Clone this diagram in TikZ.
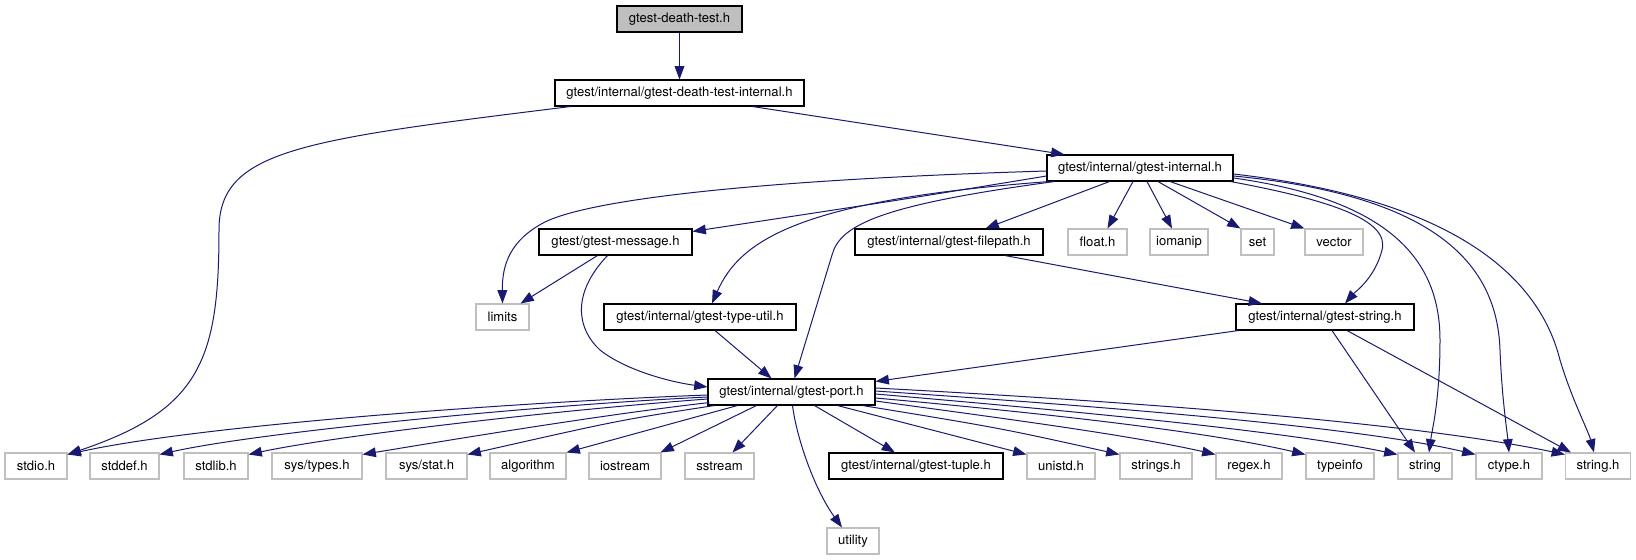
\documentclass[tikz,border=0pt]{standalone}
\usepackage{fontspec}
\setmainfont{TeX Gyre Heros}
\usetikzlibrary{arrows.meta,calc}
\definecolor{edgec}{HTML}{191970}
\definecolor{grayc}{HTML}{BFBFBF}
\definecolor{maingray}{HTML}{BFBFBF}
\begin{document}
\begin{tikzpicture}[x=0.75pt,y=-0.75pt,
  nb/.style={draw=black, line width=0.8pt, fill=white, minimum height=19.5pt,
    minimum width=#1*0.75pt, inner sep=0pt, font=\fontsize{9.8}{11}\selectfont},
  ng/.style={nb=#1, draw=grayc},
  edg/.style={draw=edgec, line width=0.75pt, -{Triangle[length=10pt,width=7.3pt]}}]
\useasboundingbox (0,0) rectangle (1636,560);
% nodes
\node[nb=125, fill=maingray] (dt) at (679.5,19) {gtest-death-test.h};
\node[nb=249] (dti) at (679.5,93) {gtest/internal/gtest-death-test-internal.h};
\node[nb=186] (gi) at (1140,168) {gtest/internal/gtest-internal.h};
\node[nb=153] (msg) at (615.5,242) {gtest/gtest-message.h};
\node[nb=188] (fp) at (949,242) {gtest/internal/gtest-filepath.h};
\node[ng=59] (float) at (1097.5,242) {float.h};
\node[ng=58] (ioman) at (1179,242) {iomanip};
\node[ng=33] (set) at (1257.5,242) {set};
\node[ng=58] (vector) at (1334,242) {vector};
\node[ng=53] (limits) at (502.5,317) {limits};
\node[nb=192] (tu) at (700,317) {gtest/internal/gtest-type-util.h};
\node[nb=178] (gs) at (1325,317) {gtest/internal/gtest-string.h};
\node[nb=167] (port) at (791.5,392) {gtest/internal/gtest-port.h};
\node[ng=62] (stdio) at (36,466) {stdio.h};
\node[ng=69] (stddef) at (124.5,466) {stddef.h};
\node[ng=64] (stdlib) at (216,466) {stdlib.h};
\node[ng=90] (systypes) at (317,466) {sys/types.h};
\node[ng=81] (sysstat) at (426.5,466) {sys/stat.h};
\node[ng=76] (algorithm) at (528,466) {algorithm};
\node[ng=72] (iostream) at (625,466) {iostream};
\node[ng=69] (sstream) at (719.5,466) {sstream};
\node[nb=174] (tuple) at (916,466) {gtest/internal/gtest-tuple.h};
\node[ng=68] (unistd) at (1061,466) {unistd.h};
\node[ng=72] (strings) at (1156,466) {strings.h};
\node[ng=66] (regex) at (1249,466) {regex.h};
\node[ng=68] (typeinfo) at (1340,466) {typeinfo};
\node[ng=54] (string) at (1425,466) {string};
\node[ng=66] (ctype) at (1509,466) {ctype.h};
\node[ng=65] (stringh) at (1598,466) {string.h};
\node[ng=52] (utility) at (853,541) {utility};
% edges from top
\draw[edg] (dt) -- (dti);
\draw[edg] ($(dti.south west)+(16,0)$) .. controls (300,140) and (219,150) .. (219,230)
  .. controls (219,360) and (200,410) .. ($(stdio.north east)+(0,2)$);
\draw[edg] ($(dti.south east)+(-52,0)$) -- ($(gi.north west)+(18,0)$);
% from gtest-internal
\draw[edg] ($(gi.west)+(0,3)$) .. controls (750,180) and (590,200) .. (545,222)
  .. controls (510,240) and (502,265) .. (limits.north);
\draw[edg] ($(gi.west)+(0,8)$) .. controls (900,200) .. ($(msg.north east)+(0,3)$);
\draw[edg] ($(gi.south west)+(3,0)$) .. controls (800,200) and (740,240) .. ($(tu.north)+(12,0)$);
\draw[edg] ($(gi.south west)+(8,0)$) .. controls (880,205) and (840,225) .. (832,255)
  -- ($(port.north)+(3,0)$);
\draw[edg] ($(gi.south west)+(63,0)$) -- ($(fp.north east)+(-58,0)$);
\draw[edg] ($(gi.south)+(-7,0)$) -- ($(float.north)+(10,0)$);
\draw[edg] ($(gi.south)+(7,0)$) -- ($(ioman.north)+(-7,0)$);
\draw[edg] ($(gi.south)+(18,0)$) -- (set.north west);
\draw[edg] ($(gi.south)+(30,0)$) -- (vector.north west);
\draw[edg] ($(gi.south east)+(-3,0)$) .. controls (1330,200) and (1390,220) .. (1382,250)
  .. controls (1375,278) and (1355,292) .. ($(gs.north)+(20,0)$);
\draw[edg] ($(gi.east)+(0,10)$) .. controls (1390,200) and (1440,260) .. (1440,340)
  .. controls (1440,400) and (1432,430) .. ($(string.north)+(4,0)$);
\draw[edg] ($(gi.east)+(0,8)$) .. controls (1430,195) and (1497,260) .. (1500,350)
  .. controls (1502,400) and (1507,430) .. (ctype.north);
\draw[edg] ($(gi.east)+(0,6)$) .. controls (1460,200) and (1540,280) .. (1560,360)
  .. controls (1572,400) and (1588,430) .. ($(stringh.north)+(-4,0)$);
% middle
\draw[edg] ($(msg.south)+(-18,0)$) -- ($(limits.north east)+(-9,0)$);
\draw[edg] ($(msg.south)+(-8,0)$) .. controls (570,295) and (578,330) .. (600,350)
  .. controls (625,370) and (670,382) .. ($(port.west)+(0,-5)$);
\draw[edg] ($(tu.south)+(15,0)$) -- ($(port.north)+(-20,0)$);
\draw[edg] ($(fp.south)+(56,0)$) -- ($(gs.north)+(-63,0)$);
\draw[edg] ($(gs.south west)+(3,0)$) -- ($(port.north east)+(0,3)$);
\draw[edg] ($(gs.south)+(7,0)$) -- ($(string.north)+(-10,0)$);
\draw[edg] ($(gs.south)+(22,0)$) -- ($(stringh.north west)+(6,0)$);
% from gtest-port
\draw[edg] ($(port.west)+(0,3)$) .. controls (520,402) and (200,425) .. ($(stdio.north east)+(0,2)$);
\draw[edg] ($(port.west)+(0,5)$) .. controls (540,405) and (260,432) .. ($(stddef.north east)+(0,2)$);
\draw[edg] ($(port.west)+(0,7)$) .. controls (560,410) and (340,435) .. ($(stdlib.north east)+(0,2)$);
\draw[edg] ($(port.south west)+(2,-3)$) .. controls (600,415) and (450,440) .. ($(systypes.north east)+(0,2)$);
\draw[edg] ($(port.south west)+(7,0)$) .. controls (620,420) .. ($(sysstat.north east)+(0,2)$);
\draw[edg] ($(port.south west)+(30,0)$) -- (algorithm.north east);
\draw[edg] ($(port.south west)+(49,0)$) -- ($(iostream.north east)+(-1,0)$);
\draw[edg] ($(port.south west)+(70,0)$) -- ($(sstream.north)+(13,0)$);
\draw[edg] ($(port.south)+(1,0)$) .. controls (797,440) and (815,490) .. ($(utility.north)+(-11,0)$);
\draw[edg] ($(port.south)+(23,0)$) -- ($(tuple.north)+(-21,0)$);
\draw[edg] ($(port.south)+(46,0)$) -- ($(unistd.north west)+(0,2)$);
\draw[edg] ($(port.south east)+(-13,0)$) .. controls (1000,428) .. ($(strings.north west)+(0,2)$);
\draw[edg] ($(port.east)+(0,9)$) .. controls (1000,418) and (1130,435) .. ($(regex.north west)+(0,2)$);
\draw[edg] ($(port.east)+(0,6)$) .. controls (1030,412) and (1200,430) .. ($(typeinfo.north west)+(0,2)$);
\draw[edg] ($(port.east)+(0,2)$) .. controls (1060,410) and (1280,430) .. ($(string.north west)+(0,2)$);
\draw[edg] ($(port.east)+(0,-1)$) .. controls (1080,405) and (1350,425) .. ($(ctype.north west)+(0,2)$);
\draw[edg] ($(port.east)+(0,-4)$) .. controls (1100,400) and (1400,420) .. ($(stringh.north west)+(0,2)$);
\end{tikzpicture}
\end{document}
